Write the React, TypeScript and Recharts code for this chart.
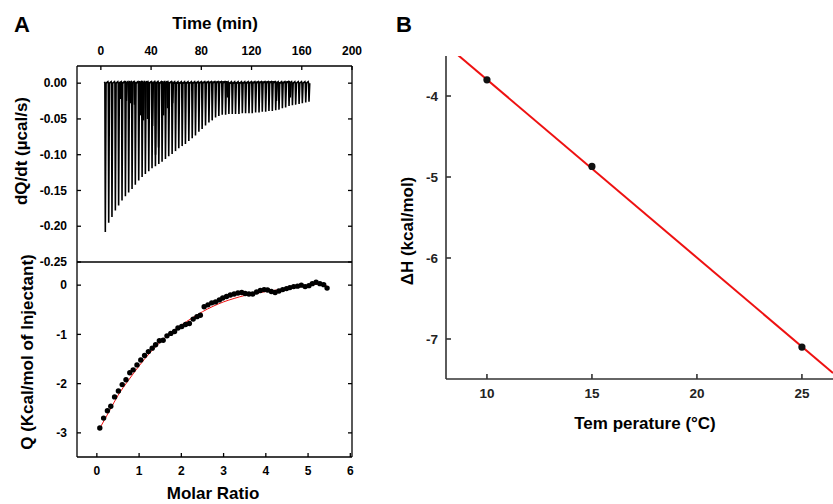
import { LineChart, ComposedChart, Line, Scatter, XAxis, YAxis, ReferenceLine } from "recharts";

// --- raw ITC trace (panel A, top) ---
const injTime = [
  3.2, 5.9, 8.5, 11.2, 13.8, 16.5, 19.2, 21.8, 24.5, 27.1,
  29.8, 32.5, 35.1, 37.8, 40.4, 43.1, 45.8, 48.4, 51.1, 53.7,
  56.4, 59.1, 61.7, 64.4, 67.0, 69.7, 72.4, 75.0, 77.7, 80.3,
  83.0, 85.7, 88.3, 91.0, 93.6, 96.3, 99.0, 101.6, 104.3, 106.9,
  109.6, 112.3, 114.9, 117.6, 120.2, 122.9, 125.6, 128.2, 130.9, 133.5,
  136.2, 138.9, 141.5, 144.2, 146.8, 149.5, 152.2, 154.8, 157.5, 160.1,
  162.8, 165.4,
];
const injPeak = [
  -0.208, -0.195, -0.187, -0.178, -0.171, -0.164, -0.158, -0.153, -0.148, -0.142,
  -0.136, -0.131, -0.127, -0.123, -0.119, -0.116, -0.113, -0.11, -0.106, -0.102,
  -0.099, -0.095, -0.091, -0.088, -0.085, -0.081, -0.077, -0.073, -0.068, -0.064,
  -0.059, -0.055, -0.052, -0.048, -0.046, -0.044, -0.044, -0.043, -0.043, -0.043,
  -0.043, -0.042, -0.042, -0.042, -0.042, -0.041, -0.041, -0.04, -0.04, -0.039,
  -0.039, -0.038, -0.037, -0.035, -0.034, -0.032, -0.031, -0.03, -0.029, -0.028,
  -0.027, -0.026,
];
// shorter overlapping peaks seen in the trace
const extraTime = [15.2, 20.0, 23.2, 26.4, 31.2, 33.6, 36.8, 40.8, 43.2, 45.6, 49.6, 52.8, 56.8, 100.5, 139.5, 150.5];
const extraPeak = [-0.022, -0.025, -0.028, -0.03, -0.045, -0.052, -0.05, -0.06, -0.1, -0.09, -0.045, -0.035, -0.028, -0.02, -0.025, -0.02];

// --- integrated heats (panel A, bottom) ---
const molarRatio = [
  0.07, 0.16, 0.25, 0.33, 0.42, 0.51, 0.6, 0.69, 0.78, 0.86,
  0.95, 1.04, 1.13, 1.22, 1.31, 1.39, 1.48, 1.57, 1.66, 1.75,
  1.84, 1.92, 2.01, 2.1, 2.19, 2.28, 2.37, 2.45, 2.54, 2.63,
  2.72, 2.81, 2.9, 2.98, 3.07, 3.16, 3.25, 3.34, 3.43, 3.51,
  3.6, 3.69, 3.78, 3.87, 3.96, 4.04, 4.13, 4.22, 4.31, 4.4,
  4.49, 4.57, 4.66, 4.75, 4.84, 4.93, 5.02, 5.1, 5.19, 5.28,
  5.37, 5.45,
];
const heatQ = [
  -2.9, -2.7, -2.55, -2.46, -2.27, -2.15, -2.02, -1.92, -1.78, -1.72,
  -1.62, -1.52, -1.43, -1.35, -1.28, -1.21, -1.13, -1.12, -1.03, -0.98,
  -0.94, -0.87, -0.84, -0.8, -0.78, -0.69, -0.64, -0.61, -0.44, -0.4,
  -0.36, -0.34, -0.3, -0.26, -0.23, -0.2, -0.18, -0.16, -0.15, -0.17,
  -0.18, -0.18, -0.14, -0.11, -0.09, -0.1, -0.13, -0.15, -0.12, -0.09,
  -0.07, -0.05, -0.03, -0.02, 0.0, -0.03, -0.01, 0.03, 0.06, 0.03,
  0.01, -0.06,
];
const fitRatio = [0.1, 0.3, 0.5, 0.75, 1.0, 1.25, 1.5, 1.75, 2.0, 2.25, 2.5, 2.75, 3.0, 3.25, 3.5, 3.75, 4.0, 4.25, 4.5, 4.75, 5.0, 5.2, 5.3, 5.45];
const fitQ = [-2.86, -2.55, -2.24, -1.93, -1.64, -1.38, -1.16, -0.97, -0.81, -0.67, -0.54, -0.43, -0.34, -0.27, -0.21, -0.17, -0.13, -0.1, -0.07, -0.04, -0.01, 0.02, 0.02, -0.02];

// --- enthalpy vs temperature (panel B) ---
const tempC = [10, 15, 25];
const deltaH = [-3.8, -4.87, -7.1];
const lineT = [8.6, 26.48];
const lineH = [-3.49, -7.42];

const timeTicks = [0, 40, 80, 120, 160, 200];
const rateTicks = [0, -0.05, -0.1, -0.15, -0.2, -0.25];
const ratioTicks = [0, 1, 2, 3, 4, 5, 6];
const qTicks = [0, -1, -2, -3];
const tempTicks = [10, 15, 20, 25];
const dhTicks = [-4, -5, -6, -7];

const FONT = "'Liberation Sans', Arial, sans-serif";

function spikes(times: number[], peaks: number[]) {
  const pts: { t: number; q: number }[] = [];
  times.forEach((t, i) => {
    pts.push({ t: t - 0.3, q: 0.002 });
    pts.push({ t, q: 0 });
    pts.push({ t: t + 0.35, q: peaks[i] });
    pts.push({ t: t + 0.95, q: 0 });
  });
  return pts;
}

const tracePts = spikes(injTime, injPeak);
const extraPts = spikes(extraTime, extraPeak);
const heatPts = molarRatio.map((m, i) => ({ m, q: heatQ[i] }));
const fitPts = fitRatio.map((m, i) => ({ m, q: fitQ[i] }));
const dhPts = tempC.map((t, i) => ({ t, h: deltaH[i] }));
const dhLine = lineT.map((t, i) => ({ t, h: lineH[i] }));

const tickA = { fontSize: 12, fontWeight: 700, fill: "#000", fontFamily: FONT };
const tickB = { fontSize: 13.5, fontWeight: 700, fill: "#222", fontFamily: FONT };
const lineA = { stroke: "#000", strokeWidth: 1.3 };
const lineB = { stroke: "#333", strokeWidth: 1.6 };

function Text({ x, y, size, rotate, children }: { x: number; y: number; size: number; rotate?: boolean; children: string }) {
  return (
    <div
      style={{
        position: "absolute",
        left: x,
        top: y,
        transform: `translate(-50%, -50%)${rotate ? " rotate(-90deg)" : ""}`,
        whiteSpace: "nowrap",
        fontFamily: FONT,
        fontWeight: 700,
        fontSize: size,
        color: "#000",
        lineHeight: 1,
      }}
    >
      {children}
    </div>
  );
}

export default function App() {
  return (
    <div style={{ position: "absolute", left: 0, top: 0, width: 833, height: 504, background: "#fff", overflow: "hidden", fontFamily: FONT }}>
      {/* A, raw heat rate */}
      <div style={{ position: "absolute", left: 0, top: 0 }}>
        <LineChart width={362} height={272} margin={{ top: 36, right: 0, bottom: 10, left: 17 }}>
          <XAxis
            type="number"
            dataKey="t"
            orientation="top"
            domain={[-19, 200]}
            ticks={timeTicks}
            allowDataOverflow
            height={30}
            tickSize={-4}
            tickMargin={15}
            tick={tickA}
            axisLine={lineA}
            tickLine={lineA}
          />
          <YAxis
            type="number"
            domain={[-0.25, 0.024]}
            ticks={rateTicks}
            allowDataOverflow
            width={60}
            tickSize={-4}
            tickMargin={14}
            tick={tickA}
            tickFormatter={(v: number) => v.toFixed(2)}
            axisLine={lineA}
            tickLine={lineA}
          />
          <YAxis
            yAxisId="r"
            orientation="right"
            type="number"
            domain={[-0.25, 0.024]}
            ticks={rateTicks}
            allowDataOverflow
            width={10}
            tickSize={-4}
            tickFormatter={() => ""}
            axisLine={lineA}
            tickLine={lineA}
          />
          <Line data={extraPts} dataKey="q" type="linear" stroke="#000" strokeWidth={1.6} dot={false} isAnimationActive={false} />
          <Line data={tracePts} dataKey="q" type="linear" stroke="#000" strokeWidth={1.6} dot={false} isAnimationActive={false} />
        </LineChart>
      </div>

      {/* A, integrated heats */}
      <div style={{ position: "absolute", left: 0, top: 252 }}>
        <ComposedChart width={362} height={235} margin={{ top: 10, right: 0, bottom: 0, left: 17 }}>
          <XAxis
            type="number"
            dataKey="m"
            domain={[-0.47, 6.04]}
            ticks={ratioTicks}
            allowDataOverflow
            height={30}
            tickSize={-4}
            tickMargin={13}
            tick={tickA}
            axisLine={lineA}
            tickLine={lineA}
          />
          <YAxis
            type="number"
            domain={[-3.49, 0.47]}
            ticks={qTicks}
            allowDataOverflow
            width={60}
            tickSize={-4}
            tickMargin={14}
            tick={tickA}
            axisLine={lineA}
            tickLine={lineA}
          />
          <YAxis
            yAxisId="r"
            orientation="right"
            type="number"
            domain={[-3.49, 0.47]}
            ticks={qTicks}
            allowDataOverflow
            width={10}
            tickSize={-4}
            tickFormatter={() => ""}
            axisLine={lineA}
            tickLine={lineA}
          />
          <ReferenceLine y={0.47} stroke="#000" strokeWidth={1.3} />
          <Scatter
            data={heatPts}
            dataKey="q"
            fill="#000"
            isAnimationActive={false}
            shape={(p: any) => <circle cx={p.cx} cy={p.cy} r={2.7} fill="#000" />}
          />
          <Line data={fitPts} dataKey="q" type="monotone" stroke="#f01010" strokeWidth={1} dot={false} isAnimationActive={false} />
        </ComposedChart>
      </div>

      {/* B, enthalpy vs temperature */}
      <div style={{ position: "absolute", left: 380, top: 0 }}>
        <ComposedChart width={453} height={504} margin={{ top: 56, right: 0, bottom: 95, left: 6 }}>
          <XAxis
            type="number"
            dataKey="t"
            domain={[8.05, 26.48]}
            ticks={tempTicks}
            allowDataOverflow
            height={30}
            tickSize={-5}
            tickMargin={14}
            tick={tickB}
            axisLine={lineB}
            tickLine={lineB}
          />
          <YAxis
            type="number"
            domain={[-7.494, -3.506]}
            ticks={dhTicks}
            allowDataOverflow
            width={60}
            tickSize={-5}
            tickMargin={13}
            tick={tickB}
            axisLine={lineB}
            tickLine={lineB}
          />
          <Line data={dhLine} dataKey="h" type="linear" stroke="#ee1111" strokeWidth={2} dot={false} isAnimationActive={false} />
          <Scatter
            data={dhPts}
            dataKey="h"
            fill="#000"
            isAnimationActive={false}
            shape={(p: any) => <circle cx={p.cx} cy={p.cy} r={3.6} fill="#111" />}
          />
        </ComposedChart>
      </div>

      <Text x={22} y={25} size={22}>A</Text>
      <Text x={404} y={25} size={22}>B</Text>
      <Text x={215} y={23} size={17}>Time (min)</Text>
      <Text x={213} y={493} size={17}>Molar Ratio</Text>
      <Text x={21} y={151} size={17} rotate>dQ/dt (µcal/s)</Text>
      <Text x={27} y={352} size={17} rotate>Q (Kcal/mol of Injectant)</Text>
      <Text x={407} y={231} size={17} rotate>ΔH (kcal/mol)</Text>
      <Text x={645} y={423} size={17}>Tem perature (°C)</Text>
    </div>
  );
}
